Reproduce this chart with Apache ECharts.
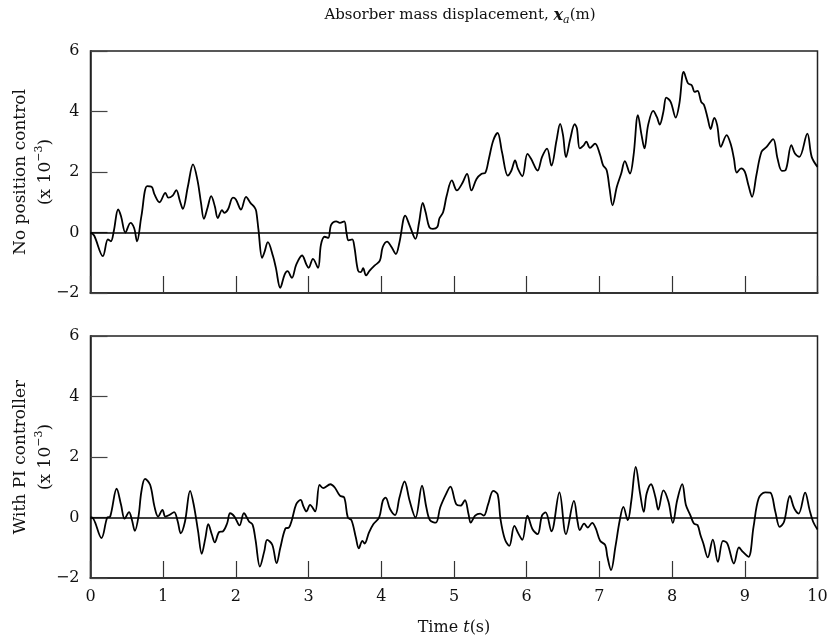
<!DOCTYPE html>
<html>
<head>
<meta charset="utf-8">
<script src="https://cdn.jsdelivr.net/npm/echarts@6/dist/echarts.min.js"></script>
<style>html,body{margin:0;padding:0;background:#fff}#c{width:829px;height:643px}</style>
</head>
<body>
<div id="c"></div>
<script>
// ---- data ----
const xTicks = [0,1,2,3,4,5,6,7,8,9,10];
const yTicks = [-2,0,2,4,6];

const topT = [0,0.05,0.17,0.24,0.28,0.32,0.38,0.42,0.48,0.55,0.60,0.64,0.70,0.78,0.84,0.88,0.95,1.03,1.07,1.13,1.18,1.23,1.27,1.34,1.41,1.47,1.52,1.56,1.61,1.66,1.71,1.75,1.81,1.84,1.89,1.96,2.00,2.07,2.14,2.20,2.26,2.28,2.31,2.36,2.39,2.44,2.51,2.55,2.61,2.67,2.71,2.77,2.83,2.91,2.97,3.00,3.06,3.13,3.17,3.22,3.27,3.31,3.38,3.43,3.49,3.52,3.55,3.60,3.63,3.68,3.72,3.75,3.79,3.84,3.91,3.98,4.02,4.08,4.14,4.20,4.25,4.33,4.39,4.47,4.52,4.57,4.61,4.66,4.71,4.77,4.80,4.85,4.90,4.97,5.04,5.11,5.18,5.24,5.31,5.38,5.43,5.48,5.54,5.60,5.66,5.74,5.79,5.84,5.88,5.94,6.01,6.06,6.15,6.21,6.28,6.34,6.41,6.46,6.50,6.54,6.60,6.66,6.69,6.73,6.78,6.82,6.87,6.94,7.01,7.05,7.10,7.14,7.18,7.24,7.30,7.35,7.42,7.47,7.53,7.58,7.62,7.67,7.74,7.79,7.83,7.88,7.92,7.98,8.05,8.10,8.16,8.22,8.27,8.31,8.35,8.40,8.44,8.49,8.53,8.58,8.62,8.67,8.75,8.81,8.85,8.89,8.95,9.00,9.05,9.10,9.16,9.23,9.30,9.39,9.45,9.51,9.56,9.64,9.69,9.75,9.86,9.92,10.0];
const topV = [0,-0.1,-0.78,-0.23,-0.29,0.04,0.76,0.54,0.0,0.32,0.15,-0.29,0.54,1.53,1.51,1.26,1.0,1.31,1.15,1.22,1.40,1.04,0.78,1.53,2.25,1.75,0.98,0.45,0.82,1.20,0.87,0.48,0.74,0.65,0.76,1.15,1.09,0.76,1.18,0.98,0.82,0.70,0.10,-0.84,-0.67,-0.32,-0.78,-1.17,-1.83,-1.39,-1.28,-1.50,-1.06,-0.76,-1.06,-1.17,-0.87,-1.17,-0.40,-0.14,-0.18,0.25,0.37,0.32,0.37,0.01,-0.26,-0.23,-0.48,-1.26,-1.31,-1.18,-1.42,-1.26,-1.09,-0.93,-0.48,-0.30,-0.48,-0.71,-0.32,0.56,0.23,-0.21,0.34,0.98,0.67,0.18,0.12,0.18,0.47,0.67,1.22,1.72,1.39,1.61,1.94,1.39,1.77,1.94,1.97,2.44,3.04,3.29,2.66,1.88,2.05,2.38,2.10,1.86,2.60,2.44,2.05,2.49,2.77,2.21,3.04,3.59,3.21,2.49,3.10,3.58,3.45,2.78,2.87,3.00,2.80,2.94,2.56,2.23,2.06,1.45,0.90,1.51,1.95,2.36,1.95,2.56,3.88,3.22,2.78,3.55,4.02,3.82,3.57,3.99,4.46,4.32,3.80,4.26,5.31,4.93,4.87,4.65,4.68,4.32,4.21,3.77,3.42,3.79,3.55,2.83,3.22,2.89,2.45,1.98,2.12,2.01,1.56,1.18,1.90,2.67,2.83,3.09,2.45,2.04,2.06,2.89,2.61,2.50,3.27,2.50,2.17];

const botT = [0,0.02,0.15,0.23,0.27,0.36,0.42,0.47,0.53,0.57,0.61,0.66,0.70,0.75,0.82,0.88,0.93,0.99,1.03,1.09,1.15,1.20,1.24,1.30,1.37,1.42,1.48,1.53,1.58,1.62,1.67,1.71,1.77,1.82,1.88,1.92,1.98,2.05,2.11,2.18,2.23,2.27,2.33,2.39,2.43,2.50,2.56,2.61,2.68,2.73,2.77,2.83,2.89,2.93,2.97,3.02,3.09,3.15,3.20,3.30,3.36,3.43,3.49,3.54,3.59,3.65,3.69,3.74,3.77,3.83,3.89,3.97,4.02,4.06,4.12,4.19,4.25,4.32,4.39,4.47,4.56,4.62,4.67,4.75,4.81,4.89,4.95,5.03,5.09,5.15,5.20,5.23,5.29,5.36,5.41,5.47,5.54,5.60,5.64,5.70,5.76,5.83,5.89,5.94,6.01,6.08,6.15,6.21,6.26,6.34,6.45,6.54,6.65,6.70,6.73,6.79,6.84,6.90,6.95,7.01,7.08,7.11,7.16,7.22,7.28,7.33,7.39,7.44,7.50,7.56,7.61,7.65,7.71,7.77,7.81,7.88,7.95,8.01,8.07,8.14,8.19,8.25,8.30,8.35,8.39,8.43,8.49,8.56,8.63,8.70,8.76,8.85,8.92,8.97,9.05,9.12,9.19,9.28,9.35,9.42,9.48,9.54,9.62,9.68,9.74,9.83,9.89,9.94,10.0];
const botV = [0,0,-0.68,0,0.03,0.95,0.42,-0.04,0.18,-0.08,-0.44,0.03,0.86,1.28,1.08,0.36,0.03,0.25,0.03,0.09,0.18,-0.13,-0.52,-0.13,0.88,0.42,-0.46,-1.20,-0.68,-0.22,-0.57,-0.82,-0.48,-0.46,-0.19,0.14,0.03,-0.26,0.14,-0.13,-0.24,-0.74,-1.62,-1.12,-0.74,-0.90,-1.51,-1.01,-0.37,-0.33,-0.08,0.44,0.58,0.36,0.20,0.42,0.20,1.08,0.97,1.10,0.99,0.72,0.66,0,-0.09,-0.66,-1.02,-0.77,-0.86,-0.50,-0.22,0,0.55,0.66,0.28,0.08,0.66,1.19,0.55,0,1.05,0.33,-0.09,-0.17,0.33,0.77,1.02,0.44,0.39,0.57,0.11,-0.17,0.06,0.13,0.06,0.44,0.88,0.77,-0.06,-0.72,-0.94,-0.28,-0.55,-0.74,0.06,-0.39,-0.55,0.06,0.17,-0.46,0.83,-0.55,0.55,-0.14,-0.42,-0.20,-0.33,-0.18,-0.36,-0.77,-0.91,-1.30,-1.74,-0.97,-0.09,0.35,-0.09,0.57,1.67,0.79,0.19,0.79,1.10,0.68,0.26,0.90,0.52,-0.18,0.57,1.10,0.41,0.08,-0.20,-0.25,-0.58,-0.86,-1.32,-0.73,-1.47,-0.77,-0.86,-1.52,-0.99,-1.13,-1.30,-0.31,0.63,0.83,0.82,0.19,-0.31,-0.14,0.71,0.30,0.13,0.82,0.26,-0.14,-0.40];

const titleText = 'Absorber mass displacement, ';
const topYName = 'No position control';
const botYName = 'With PI controller';
const unitText = '(x 10';
const unitExp = '\u22123';

// ---- chart ----
const FONT = '"DejaVu Serif", "Liberation Serif", serif';
const pairs = (t, v) => t.map((x, i) => [x, v[i]]);
const fmtY = v => String(v).replace('-', '\u2212');

const gridBase = { left: 90.5, width: 727, height: 242, show: true, borderColor: '#222', borderWidth: 1.5,
  backgroundColor: 'transparent', containLabel: false, outerBoundsMode: 'none' };

function xAxis(gi, showLabels) {
  return {
    type: 'value', gridIndex: gi, min: xTicks[0], max: xTicks[xTicks.length - 1], interval: 1,
    axisLine: { show: true, onZero: false, lineStyle: { color: '#333', width: 2 } },
    axisTick: { show: true, inside: true, length: 17, lineStyle: { color: '#333', width: 1.2 } },
    splitLine: { show: false },
    axisLabel: { show: showLabels, color: '#111', fontFamily: FONT, fontSize: 16, margin: 11 },
    name: showLabels ? 'Time {it|t}(s)' : '',
    nameLocation: 'middle', nameGap: 42, nameMoveOverlap: false,
    nameTextStyle: { color: '#111', fontFamily: FONT, fontSize: 16,
      rich: { it: { fontStyle: 'italic', fontFamily: FONT, fontSize: 16, color: '#111' } } }
  };
}
function yAxis(gi, nm) {
  return {
    type: 'value', gridIndex: gi, min: yTicks[0], max: yTicks[yTicks.length - 1], interval: 2,
    axisLine: { show: true, onZero: false, lineStyle: { color: '#222', width: 1.5 } },
    axisTick: { show: true, inside: true, length: 17, lineStyle: { color: '#444', width: 1.2 } },
    splitLine: { show: false },
    axisLabel: { color: '#111', fontFamily: FONT, fontSize: 16, margin: 11, formatter: fmtY },
    name: nm + '\n' + unitText + '{sup|' + unitExp + '})',
    nameLocation: 'middle', nameRotate: 90, nameGap: 32, nameMoveOverlap: false,
    nameTextStyle: { color: '#111', fontFamily: FONT, fontSize: 17, lineHeight: 25,
      rich: { sup: { fontFamily: FONT, fontSize: 11, color: '#111', verticalAlign: 'top', padding: [0, 0, 8, 0] } } }
  };
}

function lineSeries(gi, data) {
  return {
    type: 'line', xAxisIndex: gi, yAxisIndex: gi, data: data, showSymbol: false, symbol: 'none',
    smooth: 0.35, lineStyle: { color: '#000', width: 1.8 }, animation: false, silent: true,
    markLine: { symbol: 'none', silent: true, animation: false, label: { show: false },
      lineStyle: { color: '#000', width: 1.5, type: 'solid' }, data: [{ yAxis: 0 }] }
  };
}

const chart = echarts.init(document.getElementById('c'), null, { renderer: 'canvas' });
chart.setOption({
  backgroundColor: '#fff',
  animation: false,
  title: {
    text: titleText + '{xi|x}{sub|a}(m)',
    left: 455, top: 0, textAlign: 'center',
    textStyle: { fontFamily: FONT, fontSize: 15, fontWeight: 'normal', color: '#111',
      rich: {
        xi: { fontFamily: FONT, fontSize: 16, fontStyle: 'italic', fontWeight: 'bold', color: '#111' },
        sub: { fontFamily: FONT, fontSize: 11, fontStyle: 'italic', color: '#111', verticalAlign: 'bottom', padding: [10, 0, 0, 0] }
      } }
  },
  grid: [ Object.assign({ top: 51 }, gridBase), Object.assign({ top: 336 }, gridBase) ],
  xAxis: [ xAxis(0, false), xAxis(1, true) ],
  yAxis: [ yAxis(0, topYName), yAxis(1, botYName) ],
  series: [ lineSeries(0, pairs(topT, topV)), lineSeries(1, pairs(botT, botV)) ]
});
</script>
</body>
</html>
